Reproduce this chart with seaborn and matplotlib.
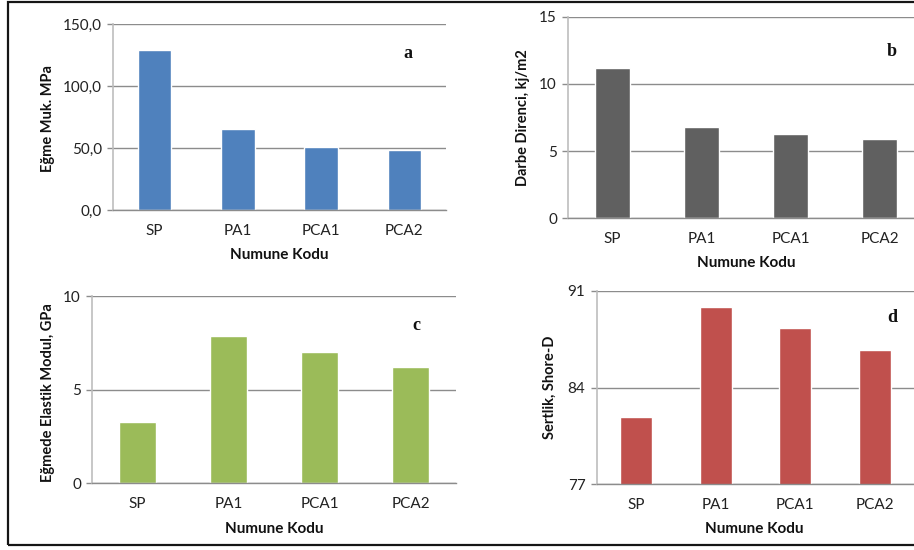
import matplotlib
matplotlib.use("Agg")
import matplotlib.pyplot as plt
from matplotlib.patches import Rectangle
from matplotlib.ticker import FuncFormatter
import seaborn as sns

# data
codes = ["SP", "PA1", "PCA1", "PCA2"]
egme_muk = [129.2, 65.4, 50.9, 48.5]      # MPa
darbe = [11.2, 6.8, 6.27, 5.9]            # kj/m2
elastik = [3.27, 7.86, 7.01, 6.21]        # GPa
sertlik = [81.9, 89.8, 88.3, 86.7]        # Shore-D

sns.set_theme(style="white")
plt.rcParams["font.family"] = ["Lato", "DejaVu Sans"]

W, H = 914, 550
fig = plt.figure(figsize=(W / 100, H / 100), dpi=100)


def px_axes(left, right, top, bottom):
    # pixel box -> figure fraction
    return fig.add_axes([left / W, (H - bottom) / H, (right - left) / W, (bottom - top) / H])


panels = [
    dict(vals=egme_muk, color="#4F81BD", ylabel="Eğme Muk. MPa", ylim=(0, 150),
         yticks=[0, 50, 100, 150], letter="a", box=(113, 446, 24.3, 210),
         ylc=(-0.174, 0.49), xlc=(0.498, -0.205), lpos=(0.885, 0.845), fmt=True),
    dict(vals=darbe, color="#606060", ylabel="Darbe Direnci, kj/m2", ylim=(0, 15),
         yticks=[0, 5, 10, 15], letter="b", box=(568, 924, 16.7, 218.3),
         ylc=(-0.107, 0.4975), xlc=(0.5, -0.187), lpos=(0.91, 0.825), fmt=False),
    dict(vals=elastik, color="#9BBB59", ylabel="Eğmede Elastik Modul, GPa", ylim=(0, 10),
         yticks=[0, 5, 10], letter="c", box=(92, 456, 296, 483.3),
         ylc=(-0.102, 0.485), xlc=(0.5, -0.207), lpos=(0.89, 0.845), fmt=False),
    dict(vals=sertlik, color="#C0504D", ylabel="Sertlik, Shore-D", ylim=(77, 91),
         yticks=[77, 84, 91], letter="d", box=(596.5, 914.5, 290.7, 484.3),
         ylc=(-0.124, 0.503), xlc=(0.495, -0.195), lpos=(0.93, 0.86), fmt=False),
]

for p in panels:
    ax = px_axes(*p["box"])
    sns.barplot(x=codes, y=p["vals"], color=p["color"], saturation=1, width=0.4, ax=ax)
    ax.set_xlim(-0.5, 3.5)
    ax.set_ylim(*p["ylim"])
    ax.set_yticks(p["yticks"])
    if p["fmt"]:
        ax.yaxis.set_major_formatter(FuncFormatter(lambda v, _: f"{v:.1f}".replace(".", ",")))
    ax.set_axisbelow(True)
    ax.yaxis.grid(True, color="#8C8C8C", lw=1.0)
    ax.xaxis.grid(False)
    for s in ["top", "right"]:
        ax.spines[s].set_visible(False)
    ax.spines["left"].set_color("#BDBDBD")
    ax.spines["left"].set_linewidth(1.2)
    ax.spines["bottom"].set_color("#8C8C8C")
    ax.spines["bottom"].set_linewidth(1.0)
    ax.tick_params(axis="y", left=True, length=4, width=1, color="#8C8C8C", pad=4,
                   labelsize=11, labelcolor="#222222")
    ax.tick_params(axis="x", bottom=False, length=0, pad=10, labelsize=11, labelcolor="#222222")
    ax.set_xlabel("Numune Kodu", fontsize=11, fontweight="bold", color="#111111")
    ax.set_ylabel(p["ylabel"], fontsize=10.5, fontweight="bold", color="#111111")
    ax.xaxis.set_label_coords(*p["xlc"])
    ax.yaxis.set_label_coords(*p["ylc"])
    ax.text(p["lpos"][0], p["lpos"][1], p["letter"], transform=ax.transAxes,
            ha="center", va="center", fontsize=13, fontweight="bold",
            family="Liberation Serif", color="#111111")

# outer frame of the figure (right side runs off the image)
fig.add_artist(Rectangle((8 / W, 5 / H), 1.2, 543.5 / H, transform=fig.transFigure,
                         fill=False, lw=1.6, edgecolor="#151515", clip_on=False))

fig.savefig("out.png", dpi=100)
